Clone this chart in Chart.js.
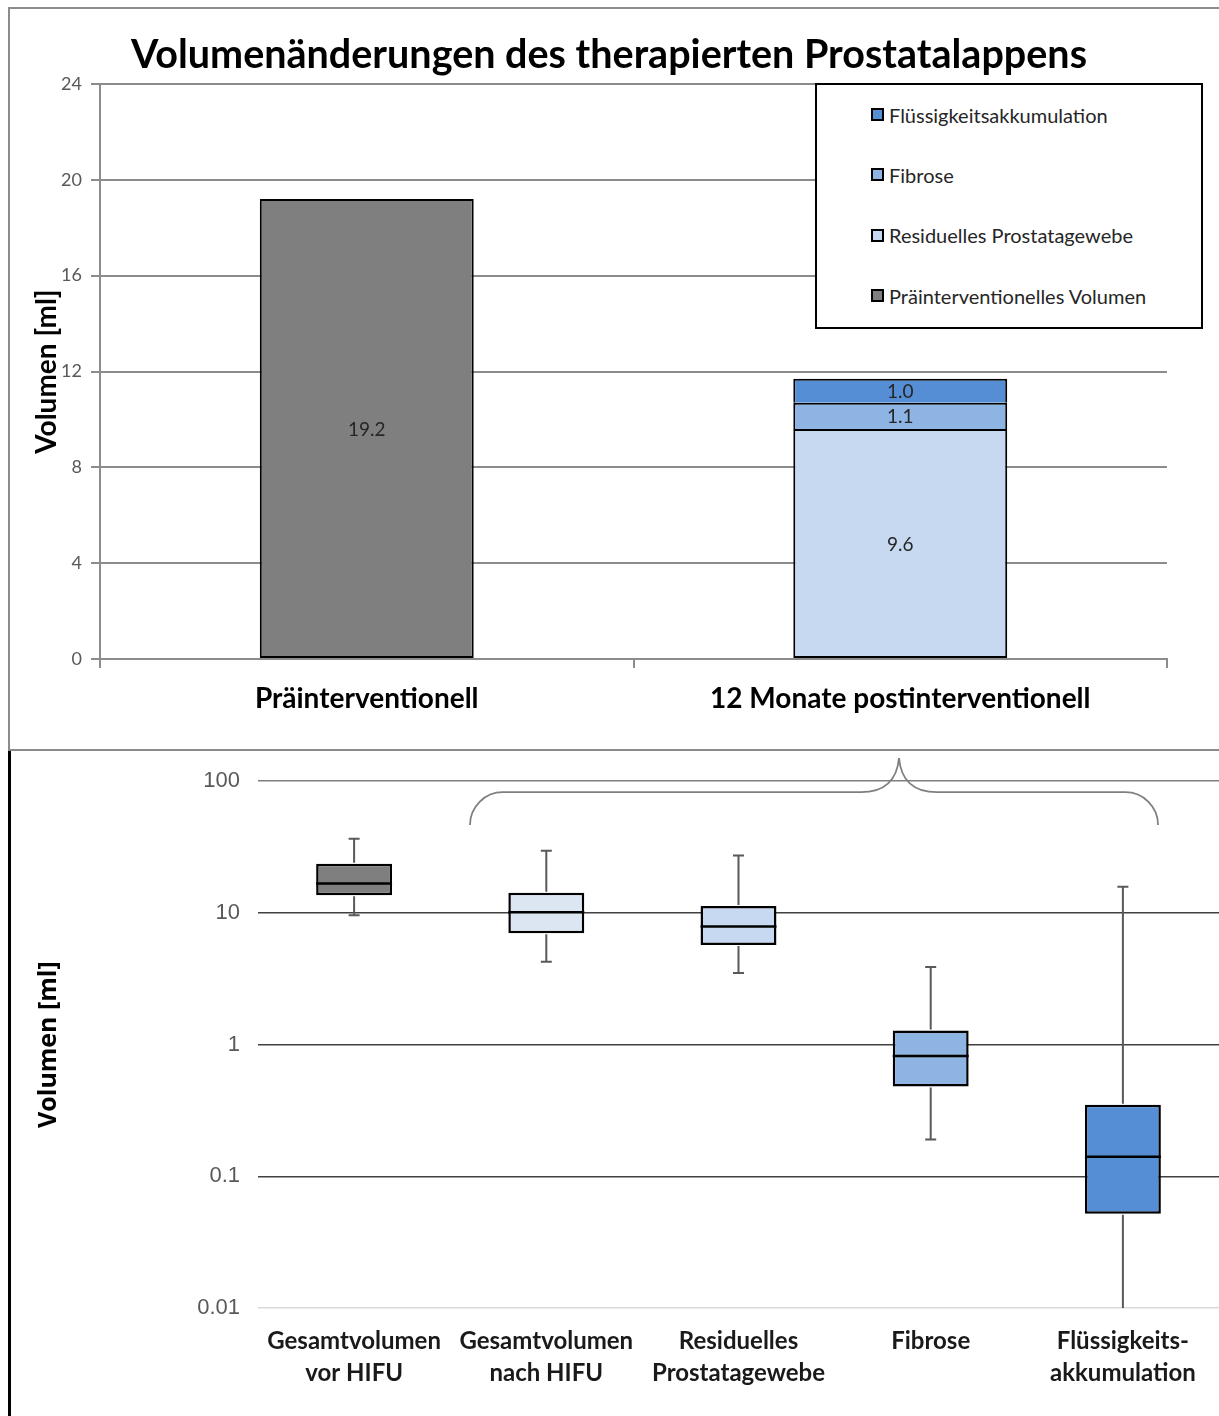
<!DOCTYPE html>
<html lang="de">
<head>
    <meta charset="UTF-8">
    <title>Volumenänderungen des therapierten Prostatalappens</title>
    <script src="https://cdn.jsdelivr.net/npm/chart.js"></script>
    <style>
        body {
            margin: 0;
            width: 1219px;
            height: 1416px;
            position: relative;
            overflow: hidden;
            background: #ffffff;
            font-family: Lato, sans-serif;
        }

        canvas {
            position: absolute;
            left: 0;
        }

        #top-chart { top: 0; }
        #box-chart { top: 750px; }

        #top-frame {
            position: absolute;
            left: 8px;
            top: 7px;
            width: 1211px;
            height: 744px;
            box-sizing: border-box;
            border-top: 2px solid #8c8c8c;
            border-left: 2px solid #8c8c8c;
            border-bottom: 2px solid #8c8c8c;
        }

        #bottom-frame {
            position: absolute;
            left: 8px;
            top: 751px;
            width: 3px;
            height: 665px;
            background: #000000;
        }

        #title {
            position: absolute;
            left: 0;
            top: 33px;
            width: 1218px;
            text-align: center;
            font-size: 39.5px;
            line-height: 40px;
            font-weight: bold;
            color: #000000;
            margin: 0;
        }

        #legend {
            position: absolute;
            left: 815px;
            top: 83px;
            width: 388px;
            height: 246px;
            box-sizing: border-box;
            border: 2px solid #000000;
            background: #ffffff;
            padding-left: 54px;
        }

        .legend-item {
            height: 61.3px;
            display: flex;
            align-items: center;
            font-size: 20px;
            color: #262626;
            margin-top: -1px;
        }

        .swatch {
            width: 13px;
            height: 13px;
            box-sizing: border-box;
            border: 2px solid #000000;
            margin-right: 5px;
            display: inline-block;
        }
    </style>
</head>
<body>
    <div id="top-frame"></div>
    <div id="bottom-frame"></div>
    <canvas id="top-chart" width="1219" height="748"></canvas>
    <canvas id="box-chart" width="1219" height="666"></canvas>
    <h1 id="title">Volumenänderungen des therapierten Prostatalappens</h1>
    <div id="legend"></div>

    <script>
        // --- upper chart: stacked volumes ---
        const topCategories = ['Präinterventionell', '12 Monate postinterventionell'];
        const preVolume = [19.2, null];
        const residualTissue = [null, 9.6];
        const fibrosis = [null, 1.1];
        const fluidAccumulation = [null, 1.0];
        const topTicks = [0, 4, 8, 12, 16, 20, 24];

        // --- lower chart: box plots (log scale) ---
        const boxCategories = [
            ['Gesamtvolumen', 'vor HIFU'],
            ['Gesamtvolumen', 'nach HIFU'],
            ['Residuelles', 'Prostatagewebe'],
            ['Fibrose'],
            ['Flüssigkeits-', 'akkumulation']
        ];
        const boxMin = [9.6, 4.25, 3.5, 0.19, 0.01];
        const boxQ1 = [13.6, 7.0, 5.7, 0.48, 0.052];
        const boxMedian = [16.7, 10.1, 7.9, 0.82, 0.141];
        const boxQ3 = [23.6, 14.2, 11.3, 1.28, 0.35];
        const boxMax = [36.5, 29.6, 27.3, 3.88, 15.8];
        const logTicks = [0.01, 0.1, 1, 10, 100];
        const logTickLabels = ['0.01', '0.1', '1', '10', '100'];

        const boxColors = ['#7f7f7f', '#dce6f2', '#c6d9f1', '#8eb4e3', '#558ed5'];
        const gridGray = '#8c8c8c';

        Chart.defaults.font.family = 'Lato';

        // writes the value in the middle of each bar segment
        const barValueLabels = {
            id: 'barValueLabels',
            afterDatasetsDraw(chart) {
                const ctx = chart.ctx;
                ctx.save();
                ctx.font = '19px Lato';
                ctx.fillStyle = '#262626';
                ctx.textAlign = 'center';
                ctx.textBaseline = 'middle';
                chart.data.datasets.forEach((ds, di) => {
                    chart.getDatasetMeta(di).data.forEach((bar, i) => {
                        const v = ds.data[i];
                        if (v == null) return;
                        ctx.fillText(v.toFixed(1), bar.x, (bar.y + bar.base) / 2 + 1);
                    });
                });
                ctx.restore();
            }
        };

        const topChart = new Chart(document.getElementById('top-chart'), {
            type: 'bar',
            data: {
                labels: topCategories,
                datasets: [
                    { label: 'Präinterventionelles Volumen', data: preVolume, backgroundColor: '#7f7f7f' },
                    { label: 'Residuelles Prostatagewebe', data: residualTissue, backgroundColor: '#c6d9f1' },
                    { label: 'Fibrose', data: fibrosis, backgroundColor: '#8eb4e3', borderSkipped: 'bottom' },
                    { label: 'Flüssigkeitsakkumulation', data: fluidAccumulation, backgroundColor: '#558ed5', borderSkipped: 'bottom' }
                ]
            },
            options: {
                responsive: false,
                animation: false,
                datasets: {
                    bar: {
                        borderColor: '#000000',
                        borderWidth: 2,
                        borderSkipped: false,
                        categoryPercentage: 1,
                        barPercentage: 0.401
                    }
                },
                layout: { padding: { left: 30, top: 84, right: 52, bottom: 0 } },
                plugins: {
                    legend: { display: false },
                    tooltip: { enabled: false }
                },
                scales: {
                    x: {
                        stacked: true,
                        grid: { offset: true, drawOnChartArea: false, tickLength: 9, color: gridGray, lineWidth: 2 },
                        border: { color: gridGray, width: 2 },
                        ticks: { color: '#000000', font: { size: 28, weight: 'bold' }, padding: 14 },
                        afterFit(scale) { scale.height = 89; }
                    },
                    y: {
                        stacked: true,
                        min: 0,
                        max: 24,
                        afterBuildTicks(scale) { scale.ticks = topTicks.map(v => ({ value: v })); },
                        grid: { color: gridGray, lineWidth: 2, tickLength: 9 },
                        border: { color: gridGray, width: 2 },
                        ticks: { color: '#595959', font: { size: 18 }, padding: 9 },
                        title: {
                            display: true,
                            text: 'Volumen [ml]',
                            color: '#000000',
                            font: { size: 28, weight: 'bold' },
                            padding: { top: 0, bottom: 0 }
                        },
                        afterFit(scale) { scale.width = 70; }
                    }
                }
            },
            plugins: [barValueLabels]
        });

        // html legend in the same order as the stack (top first)
        const legendBox = document.getElementById('legend');
        topChart.data.datasets.slice().reverse().forEach(ds => {
            const item = document.createElement('div');
            item.className = 'legend-item';
            const swatch = document.createElement('span');
            swatch.className = 'swatch';
            swatch.style.background = ds.backgroundColor;
            item.appendChild(swatch);
            item.appendChild(document.createTextNode(ds.label));
            legendBox.appendChild(item);
        });

        // whiskers, caps and medians on top of the floating q1-q3 bars
        const boxWhiskers = {
            id: 'boxWhiskers',
            afterDatasetsDraw(chart) {
                const ctx = chart.ctx;
                const y = chart.scales.y;
                const bottom = chart.chartArea.bottom;
                chart.getDatasetMeta(0).data.forEach((bar, i) => {
                    const x = bar.x;
                    const half = bar.width / 2;
                    const yQ1 = y.getPixelForValue(boxQ1[i]);
                    const yQ3 = y.getPixelForValue(boxQ3[i]);
                    const yMin = y.getPixelForValue(boxMin[i]);
                    const yMax = y.getPixelForValue(boxMax[i]);
                    const yMed = y.getPixelForValue(boxMedian[i]);

                    ctx.save();
                    ctx.strokeStyle = '#595959';
                    ctx.lineWidth = 2;
                    ctx.beginPath();
                    ctx.moveTo(x, yQ3 - 1);
                    ctx.lineTo(x, yMax);
                    ctx.moveTo(x, yQ1 + 1);
                    ctx.lineTo(x, yMin);
                    ctx.moveTo(x - 5.5, yMax);
                    ctx.lineTo(x + 5.5, yMax);
                    if (yMin < bottom - 1) {
                        ctx.moveTo(x - 5.5, yMin);
                        ctx.lineTo(x + 5.5, yMin);
                    }
                    ctx.stroke();

                    ctx.strokeStyle = '#000000';
                    ctx.lineWidth = 2.5;
                    ctx.beginPath();
                    ctx.moveTo(x - half, yMed);
                    ctx.lineTo(x + half, yMed);
                    ctx.stroke();
                    ctx.restore();
                });
            }
        };

        // curly brace grouping the post-HIFU boxes
        const braceSpan = { from: 0.603, tip: 2.835, to: 4.183 };
        const braceLevels = { ends: 46.5, bar: 82.5, tip: 150 };
        const braceMark = {
            id: 'braceMark',
            afterDraw(chart) {
                const ctx = chart.ctx;
                const xs = chart.scales.x;
                const ys = chart.scales.y;
                const xl = xs.getPixelForValue(braceSpan.from);
                const xt = xs.getPixelForValue(braceSpan.tip);
                const xr = xs.getPixelForValue(braceSpan.to);
                const ye = ys.getPixelForValue(braceLevels.ends);
                const yb = ys.getPixelForValue(braceLevels.bar);
                const yt = ys.getPixelForValue(braceLevels.tip);
                const r = ye - yb;
                ctx.save();
                ctx.strokeStyle = '#7f7f7f';
                ctx.lineWidth = 1.8;
                ctx.beginPath();
                ctx.moveTo(xl, ye);
                ctx.arcTo(xl, yb, xl + r, yb, r);
                ctx.lineTo(xt - 38, yb);
                ctx.bezierCurveTo(xt - 14, yb, xt - 2, yb - 12, xt, yt);
                ctx.bezierCurveTo(xt + 2, yb - 12, xt + 14, yb, xt + 38, yb);
                ctx.lineTo(xr - r, yb);
                ctx.arcTo(xr, yb, xr, ye, r);
                ctx.stroke();
                ctx.restore();
            }
        };

        new Chart(document.getElementById('box-chart'), {
            type: 'bar',
            data: {
                labels: boxCategories,
                datasets: [{
                    data: boxQ1.map((q, i) => [q, boxQ3[i]]),
                    backgroundColor: boxColors,
                    borderColor: '#000000',
                    borderWidth: 2.5,
                    borderSkipped: false,
                    categoryPercentage: 1,
                    barPercentage: 0.395
                }]
            },
            options: {
                responsive: false,
                animation: false,
                layout: { padding: { left: 28, top: 28, right: 0, bottom: 0 } },
                plugins: {
                    legend: { display: false },
                    tooltip: { enabled: false }
                },
                scales: {
                    x: {
                        grid: { display: false },
                        border: { display: false },
                        ticks: {
                            color: '#1a1a1a',
                            font: { size: 24, weight: 'bold', lineHeight: 1.34 },
                            padding: 9,
                            maxRotation: 0,
                            autoSkip: false
                        },
                        afterFit(scale) { scale.height = 108; }
                    },
                    y: {
                        type: 'logarithmic',
                        min: 0.01,
                        max: 100,
                        afterBuildTicks(scale) { scale.ticks = logTicks.map(v => ({ value: v })); },
                        grid: {
                            drawTicks: false,
                            lineWidth: 1.5,
                            color: ctx => {
                                const v = ctx.tick ? ctx.tick.value : null;
                                if (v === 100) return '#7f7f7f';
                                if (v === 0.01) return '#d9d9d9';
                                return '#404040';
                            }
                        },
                        border: { display: false },
                        ticks: {
                            color: '#595959',
                            font: { family: 'Liberation Sans', size: 22 },
                            padding: 18,
                            callback: v => logTickLabels[logTicks.indexOf(v)]
                        },
                        title: {
                            display: true,
                            text: 'Volumen [ml]',
                            color: '#000000',
                            font: { family: 'Open Sans', size: 25, weight: 'bold' },
                            padding: { top: 6, bottom: 0 }
                        },
                        afterFit(scale) { scale.width = 230; }
                    }
                }
            },
            plugins: [boxWhiskers, braceMark]
        });
    </script>
</body>
</html>
